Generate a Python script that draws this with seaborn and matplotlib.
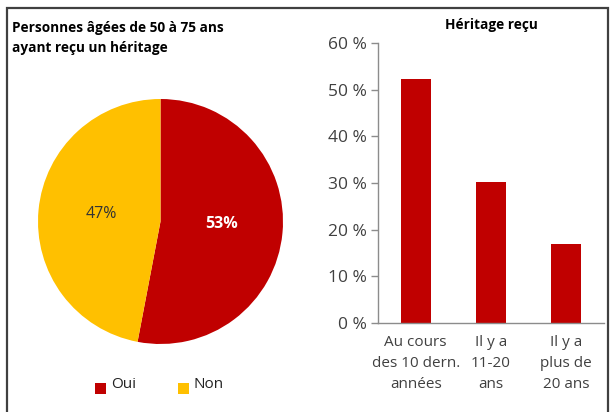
import matplotlib
matplotlib.use("Agg")
import matplotlib.pyplot as plt
import seaborn as sns
import pandas as pd
from matplotlib.patches import Rectangle

# Data
pie_labels = ["Oui", "Non"]
pie_values = [53, 47]
bar_categories = ["Au cours\ndes 10 dern.\nannées", "Il y a\n11-20\nans", "Il y a\nplus de\n20 ans"]
bar_values = [52.3, 30.2, 17.0]
y_ticks = [0, 10, 20, 30, 40, 50, 60]
y_tick_labels = ["0 %", "10 %", "20 %", "30 %", "40 %", "50 %", "60 %"]

RED = "#C00000"
YELLOW = "#FFC000"
TXT = "#404040"

sns.set_theme(style="white")
plt.rcParams['font.family'] = ['Open Sans', 'DejaVu Sans']

W, H = 614, 412
fig = plt.figure(figsize=(W / 100, H / 100), dpi=100)

def fx(px):
    return px / W

def fy(py):
    return 1 - py / H

# outer frame
fig.patches.append(Rectangle((fx(7), fy(430)), fx(608) - fx(7), fy(8) - fy(430),
                             transform=fig.transFigure, fill=False,
                             edgecolor="#404040", linewidth=1.6, zorder=0))

# ---- Pie ----
ax_pie = fig.add_axes([fx(38), fy(345), fx(283) - fx(38), fy(98) - fy(345)])
wedges, _ = ax_pie.pie(pie_values, colors=[RED, YELLOW], startangle=90, counterclock=False,
                       wedgeprops=dict(linewidth=0))
ax_pie.set_xlim(-1, 1)
ax_pie.set_ylim(-1, 1)
ax_pie.set_aspect("equal")
ax_pie.axis("off")
ax_pie.text(0.50, -0.02, f"{pie_values[0]}%", color="white", fontsize=11.5, fontweight="bold",
            ha="center", va="center")
ax_pie.text(-0.48, 0.06, f"{pie_values[1]}%", color="#333333", fontsize=11.5,
            ha="center", va="center")

fig.text(fx(12), fy(28), "Personnes âgées de 50 à 75 ans", fontsize=9.8, fontweight="bold",
         color="black", ha="left", va="center")
fig.text(fx(12), fy(48), "ayant reçu un héritage", fontsize=9.8, fontweight="bold",
         color="black", ha="left", va="center")

# legend
for (x0, lab, col) in [(95, pie_labels[0], RED), (178, pie_labels[1], YELLOW)]:
    fig.patches.append(Rectangle((fx(x0), fy(394)), fx(11), fy(0) - fy(11),
                                 transform=fig.transFigure, facecolor=col, edgecolor="none"))
    fig.text(fx(x0 + 16), fy(385), lab, fontsize=11, color="#222222", ha="left", va="center")

# ---- Bars ----
ax_bar = fig.add_axes([fx(378), fy(323), fx(604) - fx(378), fy(43) - fy(323)])
df = pd.DataFrame({"cat": bar_categories, "val": bar_values})
sns.barplot(data=df, x="cat", y="val", color=RED, saturation=1, width=0.4, ax=ax_bar,
            edgecolor="none")
ax_bar.set_xlim(-0.5, 2.5)
ax_bar.set_ylim(0, 60)
ax_bar.set_yticks(y_ticks)
ax_bar.set_yticklabels(y_tick_labels)
ax_bar.set_xlabel("")
ax_bar.set_ylabel("")
for s in ["top", "right"]:
    ax_bar.spines[s].set_visible(False)
for s in ["left", "bottom"]:
    ax_bar.spines[s].set_color("#8c8c8c")
    ax_bar.spines[s].set_linewidth(1.0)
ax_bar.set_xticks([0, 1, 2])
ax_bar.set_xticklabels(bar_categories, fontsize=11, color=TXT, linespacing=1.5)
ax_bar.tick_params(axis="x", length=0, pad=9)
ax_bar.set_xticks([-0.5, 0.5, 1.5, 2.5], minor=True)
ax_bar.tick_params(axis="x", which="minor", length=5, color="#8c8c8c", width=1.0, direction="out")
ax_bar.tick_params(axis="y", length=5, color="#8c8c8c", width=1.0, direction="out",
                   labelsize=12.5, labelcolor=TXT, pad=3, left=True)
ax_bar.set_title("Héritage reçu", fontsize=9.8, fontweight="bold", color="black", pad=10)

fig.savefig("out.png", dpi=100)
